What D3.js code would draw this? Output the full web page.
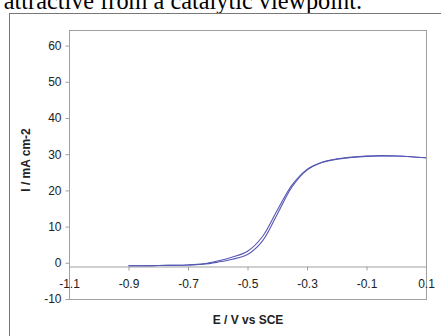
<!DOCTYPE html>
<html>
<head>
<meta charset="utf-8">
<script src="https://cdn.jsdelivr.net/npm/d3@7"></script>
<style>
  html, body { margin: 0; padding: 0; background: #fff; }
  svg { display: block; }
</style>
</head>
<body>
<svg id="chart" width="441" height="336"></svg>
<script>
// potential (V vs SCE)
const potentials = [-0.9, -0.85, -0.8, -0.75, -0.7, -0.65, -0.6, -0.55, -0.5, -0.45, -0.4,
  -0.35, -0.3, -0.25, -0.2, -0.15, -0.1, -0.05, 0, 0.05, 0.1]
// current density, two sweeps
const sweepUp = [-0.8, -0.8, -0.75, -0.7, -0.6, -0.3, 0.5, 1.6, 3.2, 7.2, 14.5,
  21.5, 25.8, 27.8, 28.7, 29.2, 29.5, 29.6, 29.5, 29.3, 29.0]
const sweepDown = [-0.8, -0.8, -0.75, -0.7, -0.6, -0.4, 0.2, 1.0, 2.3, 6.0, 13.4,
  21.0, 25.6, 27.7, 28.6, 29.1, 29.4, 29.5, 29.5, 29.3, 29.0]
const xTicks = [-1.1, -0.9, -0.7, -0.5, -0.3, -0.1, 0.1]
const yTicks = [-10, 0, 10, 20, 30, 40, 50, 60]

const svg = d3.select('#chart')
const plot = { left: 69, top: 30, right: 426, bottom: 299 }

// cropped caption text from the page above
svg.append('text')
  .attr('x', 362)
  .attr('y', 9)
  .attr('text-anchor', 'end')
  .style('font-family', '"Liberation Serif", "Times New Roman", serif')
  .style('font-size', '24.3px')
  .style('fill', '#000')
  .text('attractive from a catalytic viewpoint.')

// outer frame
svg.append('rect')
  .attr('x', 9.5).attr('y', 13.5)
  .attr('width', 440).attr('height', 330)
  .style('fill', 'none')
  .style('stroke', '#777')
  .style('stroke-width', 1)

const x = d3.scaleLinear().domain([-1.1, 0.1]).range([plot.left, plot.right])
const y = d3.scaleLinear().domain([-10, 64.3]).range([plot.bottom, plot.top])

// plot area border
svg.append('rect')
  .attr('x', plot.left + 0.5).attr('y', plot.top + 0.5)
  .attr('width', plot.right - plot.left).attr('height', plot.bottom - plot.top)
  .style('fill', 'none')
  .style('stroke', '#a0a0a0')
  .style('stroke-width', 1)

const tickFont = 'Liberation Sans, Arial, sans-serif'
const hyphen = f => d => f(d).replace('\u2212', '-')

// y axis
const yAxis = svg.append('g')
  .attr('transform', `translate(${plot.left + 0.5},0)`)
  .call(d3.axisLeft(y).tickValues(yTicks).tickSize(4).tickPadding(4)
    .tickFormat(hyphen(d3.format('d'))))
yAxis.select('.domain').remove()
yAxis.selectAll('line').style('stroke', '#a0a0a0')
yAxis.selectAll('text')
  .style('font-family', tickFont)
  .style('font-size', '12px')
  .style('fill', '#222')

// x axis crossing at -1
const yCross = Math.round(y(-1)) + 0.5
const xAxis = svg.append('g')
  .attr('transform', `translate(0,${yCross})`)
  .call(d3.axisBottom(x).tickValues(xTicks).tickSize(4).tickPadding(9)
    .tickFormat(hyphen(d3.format('.1f'))))
xAxis.select('.domain').style('stroke', '#a0a0a0')
xAxis.selectAll('line').style('stroke', '#a0a0a0')
xAxis.selectAll('text')
  .style('font-family', tickFont)
  .style('font-size', '12px')
  .style('fill', '#222')

// axis titles
svg.append('text')
  .attr('transform', 'translate(30,160) rotate(-90)')
  .attr('text-anchor', 'middle')
  .style('font-family', tickFont)
  .style('font-size', '12px')
  .style('font-weight', 'bold')
  .style('fill', '#222')
  .text('I / mA cm-2')

svg.append('text')
  .attr('x', 248)
  .attr('y', 324)
  .attr('text-anchor', 'middle')
  .style('font-family', tickFont)
  .style('font-size', '12px')
  .style('font-weight', 'bold')
  .style('fill', '#222')
  .text('E / V vs SCE')

// curves
const line = d3.line()
  .x((d, i) => x(potentials[i]))
  .y(d => y(d))
  .curve(d3.curveCatmullRom)

;[sweepUp, sweepDown].forEach(series => {
  svg.append('path')
    .datum(series)
    .attr('d', line)
    .style('fill', 'none')
    .style('stroke', '#5558b4')
    .style('stroke-width', 1.1)
})
</script>
</body>
</html>
